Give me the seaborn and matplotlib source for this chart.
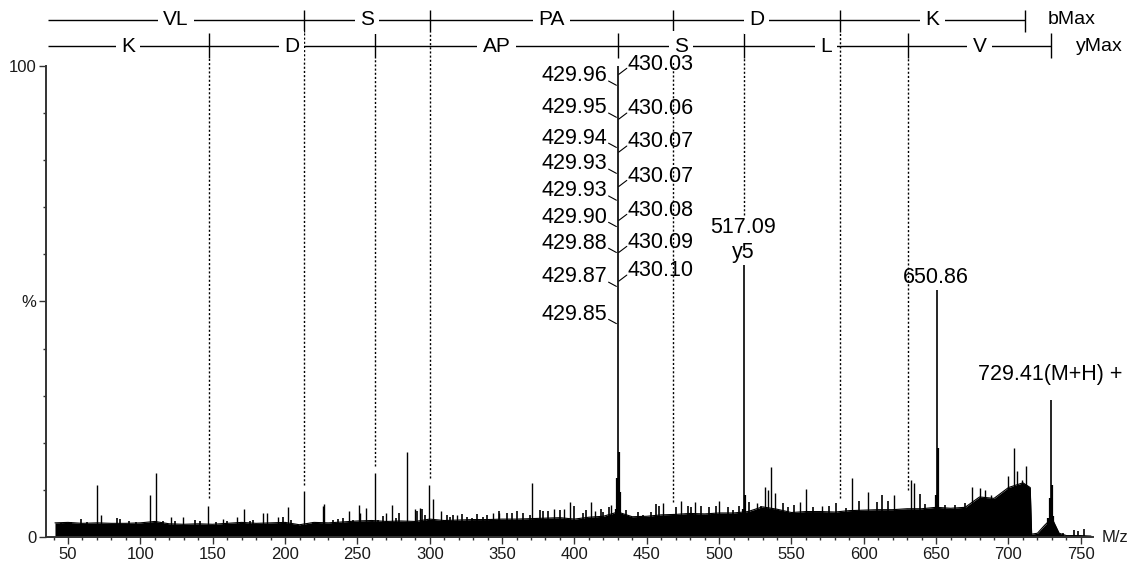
import matplotlib
matplotlib.use("Agg")
import matplotlib.pyplot as plt
import pandas as pd
import seaborn as sns

# ---- data (m/z, relative intensity %) ----
main_mz = [429.95, 517.09, 650.86, 729.41]
main_pct = [100.0, 57.8, 52.5, 29.1]

# shoulders next to the labelled peaks
shoulder_mz = [428.8, 429.3, 430.6, 431.3, 516.5, 517.8, 650.2, 651.4,
               728.8, 729.9, 727.5, 731.0]
shoulder_pct = [6.0, 12.5, 18.0, 9.6, 6.0, 9.0, 9.0, 19.0,
                8.3, 11.0, 4.0, 4.5]

spike_mz = [70.0, 72.8, 107.0, 110.7, 121.0, 129.4, 146.6, 157.0, 166.6,
            171.5, 184.6, 187.3, 195.0, 201.8, 213.0, 226.0, 226.7, 244.0,
            250.8, 252.0, 256.0, 261.9, 270.0, 274.0, 284.0, 289.5, 293.0,
            299.8, 302.0, 308.0, 319.0, 344.0, 348.0, 371.0, 386.0, 393.0,
            397.0, 411.6, 414.0, 425.0, 461.0, 474.0, 483.0, 500.0, 526.0,
            532.0, 534.0, 535.9, 538.6, 556.0, 560.0, 571.0, 592.0, 603.0,
            620.7, 632.5, 634.6, 675.0, 680.0, 684.0, 688.0, 700.0, 703.6,
            706.0, 709.0, 712.0]
spike_pct = [11.0, 4.7, 9.0, 13.6, 4.3, 4.3, 6.6, 3.8, 4.3,
             6.0, 5.1, 5.1, 4.3, 6.4, 9.8, 6.6, 7.0, 5.5,
             6.8, 5.1, 6.2, 13.6, 5.1, 6.8, 18.0, 5.9, 6.2,
             11.0, 8.0, 5.5, 4.7, 5.1, 5.1, 11.5, 5.9, 6.0,
             7.4, 7.4, 5.5, 6.8, 7.2, 7.7, 7.4, 7.7, 7.2,
             10.6, 10.0, 14.9, 9.4, 7.4, 10.2, 6.6, 12.5, 9.6,
             9.0, 12.0, 11.5, 10.6, 10.4, 10.0, 9.0, 13.0, 19.0,
             14.0, 12.0, 15.0]

grass_mz = [45, 52, 59, 63, 84, 86, 92, 97, 116, 124, 138, 141, 152, 160,
            176, 178, 198.6, 204, 219, 233, 236.6, 240, 247, 264, 267.7, 277,
            278.7, 291, 295, 297, 312, 314, 316, 322, 325.7, 329, 332.6, 337,
            339.6, 348, 353.4, 357, 360, 364.5, 369, 376, 378, 381.7, 390,
            400, 406, 408, 418.4, 420, 424, 435.6, 444, 447.4, 453, 456.4,
            458.4, 470, 478.5, 480.5, 487.5, 493, 498, 506, 509.6, 514, 521,
            529, 544, 547.6, 551.7, 565, 576, 581, 588, 596.6, 609, 612.6,
            617, 638.8, 642, 656, 663, 670, 694, 738, 745, 748, 752]
grass_pct = [3.0, 3.2, 3.8, 3.1, 4.0, 3.8, 3.3, 3.2, 3.5, 3.3, 3.7, 3.4,
             3.2, 3.3, 3.4, 3.6, 4.3, 3.7, 3.2, 3.6, 3.8, 4.0, 3.6, 3.6,
             4.5, 4.0, 5.1, 5.5, 5.9, 4.6, 4.7, 4.2, 4.7, 4.9, 4.3, 4.0,
             4.9, 4.3, 4.7, 5.5, 5.0, 5.1, 5.5, 5.1, 4.7, 5.7, 5.5, 5.5,
             5.7, 6.6, 5.1, 5.7, 6.0, 5.3, 6.4, 5.7, 5.3, 4.7, 5.3, 7.0,
             6.6, 6.4, 6.6, 6.4, 6.6, 6.4, 6.6, 6.4, 5.7, 6.6, 7.4, 6.6,
             7.2, 6.4, 6.8, 6.4, 6.6, 7.2, 6.2, 7.6, 7.4, 9.0, 7.6, 9.1,
             7.0, 6.8, 6.8, 7.2, 8.0, 0.8, 1.5, 1.2, 1.6]

floor_mz = [41, 50, 60, 70, 80, 90, 100, 110, 120, 130, 140, 150, 160, 170,
            180, 190, 200, 210, 220, 230, 240, 250, 260, 270, 280, 290, 300,
            310, 320, 330, 340, 350, 360, 370, 380, 390, 400, 410, 420, 430,
            440, 450, 460, 470, 480, 490, 500, 510, 520, 530, 540, 550, 560,
            570, 580, 590, 600, 610, 620, 630, 640, 650, 660, 670, 680, 690,
            700, 710, 715, 716, 720, 725, 730, 735, 740, 750, 757]
floor_pct = [3.0, 3.1, 2.9, 3.0, 2.9, 2.9, 3.0, 3.3, 2.8, 2.7, 2.8, 2.7, 2.9,
             3.1, 2.9, 3.0, 3.1, 2.6, 3.1, 3.0, 3.2, 3.4, 3.5, 3.3, 3.4, 3.3,
             3.8, 3.5, 3.6, 3.7, 3.7, 3.8, 3.8, 3.9, 4.0, 4.1, 3.8, 4.2, 4.4,
             5.3, 4.3, 4.4, 4.7, 4.8, 5.0, 4.9, 5.1, 5.1, 5.4, 6.4, 5.9, 5.2,
             5.4, 5.4, 5.3, 5.6, 5.7, 5.8, 5.8, 6.0, 6.0, 6.3, 6.1, 6.3, 8.5,
             8.2, 10.5, 11.5, 10.5, 0.6, 0.8, 2.5, 4.0, 0.8, 0.3, 0.3, 0.2]

# fragment ladders (peptide VLSPADK)
b_ions = [213.16, 300.19, 468.28, 583.31, 711.40]
b_names = ["VL", "S", "PA", "D", "K"]
y_ions = [147.11, 262.14, 430.22, 517.26, 630.35, 729.41]
y_names = ["K", "D", "AP", "S", "L", "V"]
# where the dotted guide of each ion stops (%)
b_guide_end = [11.0, 12.5, 7.4, 8.3, None]
y_guide_end = [8.3, 15.1, None, 68.4, 10.0, None]

left_cluster = ["429.96", "429.95", "429.94", "429.93", "429.93",
                "429.90", "429.88", "429.87", "429.85"]
right_cluster = ["430.03", "430.06", "430.07", "430.07", "430.08",
                 "430.09", "430.10"]

# ---- layout ----
left_cluster_y = [97.9, 91.1, 84.7, 79.2, 73.5, 67.9, 62.4, 55.2, 47.3]
right_cluster_y = [100.4, 90.9, 83.9, 76.6, 69.4, 62.6, 56.5]
ladder_start = 36.2
b_row, y_row = 109.8, 104.2

sns.set_theme(style="ticks")
plt.rcParams["font.family"] = ["Liberation Sans", "DejaVu Sans"]
plt.rcParams["text.color"] = "black"

fig = plt.figure(figsize=(11.34, 5.66), dpi=100)
ax = fig.add_axes([46 / 1134, 1 - 537 / 566, (1093 - 46) / 1134, 537 / 566])
ax.set_xlim(34.8, 758.4)
ax.set_ylim(0, 114.0)

floor = pd.DataFrame({"mz": floor_mz, "pct": floor_pct})
ax.fill_between(floor["mz"], 0, floor["pct"], color="black", lw=0)
sns.lineplot(data=floor, x="mz", y="pct", color="black", lw=0.8, ax=ax)

ax.vlines(grass_mz, 0, grass_pct, color="black", lw=1.2)
ax.vlines(spike_mz, 0, spike_pct, color="black", lw=1.0)
ax.vlines(shoulder_mz, 0, shoulder_pct, color="black", lw=1.6)
ax.vlines(main_mz, 0, main_pct, color="black", lw=1.2)

# ion ladders
fs = 15
dots = (0, (1.5, 1.5))
ax.hlines(b_row, ladder_start, b_ions[-1], color="black", lw=1)
ax.hlines(y_row, ladder_start, y_ions[-1], color="black", lw=1)
ax.vlines(b_ions, 107.2, 111.9, color="black", lw=1)
ax.vlines(y_ions, 101.6, 107.0, color="black", lw=1)
edges = [ladder_start] + b_ions
for i, name in enumerate(b_names):
    ax.text((edges[i] + edges[i + 1]) / 2, b_row, name, fontsize=fs,
            ha="center", va="center",
            bbox=dict(boxstyle="square,pad=0.25", fc="white", ec="none"))
edges = [ladder_start] + y_ions
for i, name in enumerate(y_names):
    ax.text((edges[i] + edges[i + 1]) / 2, y_row, name, fontsize=fs,
            ha="center", va="center",
            bbox=dict(boxstyle="square,pad=0.25", fc="white", ec="none"))
ax.text(b_ions[-1] + 15.9, b_row, "bMax", fontsize=14, ha="left", va="center")
ax.text(y_ions[-1] + 17.5, y_row, "yMax", fontsize=14, ha="left", va="center")

for mz, end in zip(b_ions, b_guide_end):
    if end is not None:
        ax.vlines(mz, end, 107.2, color="black", lw=1, linestyles=dots)
for mz, end in zip(y_ions, y_guide_end):
    if end is not None:
        ax.vlines(mz, end, 101.6, color="black", lw=1, linestyles=dots)

# labels of the 430 cluster
for txt, yy in zip(left_cluster, left_cluster_y):
    ax.text(422.5, yy, txt, fontsize=15.5, ha="right", va="center")
    ax.plot([423.6, 429.0], [yy - 1.1, yy - 2.0], color="black", lw=0.8)
for txt, yy in zip(right_cluster, right_cluster_y):
    ax.text(437.0, yy, txt, fontsize=15.5, ha="left", va="center")
    ax.plot([430.6, 436.2], [yy - 2.2, yy - 0.9], color="black", lw=0.8)

ax.text(main_mz[1] - 0.5, 65.6, "517.09", fontsize=15.5, ha="center", va="center")
ax.text(main_mz[1] - 0.5, 60.3, "y5", fontsize=15.5, ha="center", va="center")
ax.text(main_mz[2] - 1.0, 55.0, "650.86", fontsize=15.5, ha="center", va="center")
ax.text(678.9, 34.6, "729.41(M+H) +", fontsize=15.5, ha="left", va="center")

# axes styling
sns.despine(ax=ax)
ax.spines["left"].set_bounds(0, 100)
for s in ("left", "bottom"):
    ax.spines[s].set_linewidth(1.4)
    ax.spines[s].set_color("#333333")
ax.set_xticks(range(50, 751, 50))
ax.set_xticks(range(40, 758, 10), minor=True)
ax.set_yticks([0, 50, 100])
ax.set_yticklabels(["0", "%", "100"])
ax.set_yticks([10, 20, 30, 40, 60, 70, 80, 90], minor=True)
ax.tick_params(which="major", length=5, width=1, color="#333333",
               labelsize=12, labelcolor="#1a1a1a", pad=2)
ax.tick_params(which="minor", length=2.5, width=1, color="#333333")
ax.set_xlabel("")
ax.set_ylabel("")
ax.text(764.6, 0, "M/z", fontsize=12, color="#1a1a1a", ha="left", va="center")

fig.savefig("out.png", dpi=100)
